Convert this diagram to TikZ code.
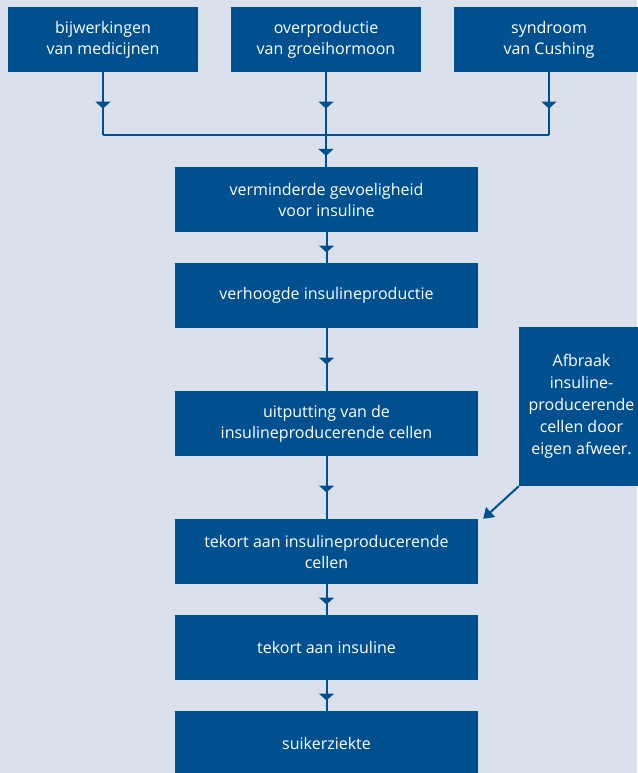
\documentclass[tikz,border=0pt]{standalone}
\usepackage{fontspec}
\setmainfont{Open Sans}
\usepackage{xcolor}
\usetikzlibrary{positioning, arrows.meta, decorations.markings}

\definecolor{boxblue}{HTML}{00508F}
\definecolor{bgblue}{HTML}{DAE0EC}

\tikzset{
  stepbox/.style={rectangle, fill=boxblue, text=white, inner sep=0pt, align=center,
    minimum width=303pt, minimum height=65pt,
    font=\fontsize{16}{21}\selectfont},
  topbox/.style={stepbox, minimum width=190pt},
  sidebox/.style={stepbox, minimum width=125pt, minimum height=159pt, font=\fontsize{16}{22}\selectfont},
  flow/.style={draw=boxblue, line width=2pt, postaction={decorate},
    decoration={markings, mark=at position 0.5 with {\arrow[xshift=5pt, boxblue]{Triangle[width=15pt, length=7pt]}}}},
  link/.style={draw=boxblue, line width=2pt}
}

\begin{document}
\begin{tikzpicture}[x=1pt, y=-1pt]
  \fill[bgblue] (0,0) rectangle (637,773);
  \useasboundingbox (0,0) rectangle (637,773);

  % bovenste rij oorzaken
  \node[topbox] (medic) at (103,39.5) {bijwerkingen\\van medicijnen};
  \node[topbox] (groei) at (326,39.5) {overproductie\\van groeihormoon};
  \node[topbox] (cush) at (549,39.5) {syndroom\\van Cushing};

  % hoofdketen
  \node[stepbox] (gevoel) at (326.5,199.5) {verminderde gevoeligheid\\voor insuline};
  \node[stepbox] (prod) at (326.5,295.5) {verhoogde insulineproductie};
  \node[stepbox] (uitput) at (326.5,423.5) {uitputting van de\\insulineproducerende cellen};
  \node[stepbox] (tekcel) at (326.5,551.5) {tekort aan insulineproducerende\\cellen};
  \node[stepbox] (tekins) at (326.5,647.5) {tekort aan insuline};
  \node[stepbox] (suiker) at (326.5,743.5) {suikerziekte};

  % afweer
  \node[sidebox] (afweer) at (581.5,406.5) {Afbraak\\insuline-\\producerende\\cellen door\\eigen afweer.};

  \coordinate (join) at (326,135);

  \draw[flow] (medic) -- (medic |- join);
  \draw[flow] (cush) -- (cush |- join);
  \draw[link] (medic |- join) -- (cush |- join);
  \draw[flow] (groei) -- (join);
  \draw[flow] (join) -- (gevoel.north -| join);

  \draw[flow] (gevoel) -- (prod);
  \draw[flow] (prod) -- (uitput);
  \draw[flow] (uitput) -- (tekcel);
  \draw[flow] (tekcel) -- (tekins);
  \draw[flow] (tekins) -- (suiker);

  \draw[link, -{Triangle[width=13pt, length=10pt]}] (afweer.south west) -- ([xshift=5pt]tekcel.north east);
\end{tikzpicture}
\end{document}
